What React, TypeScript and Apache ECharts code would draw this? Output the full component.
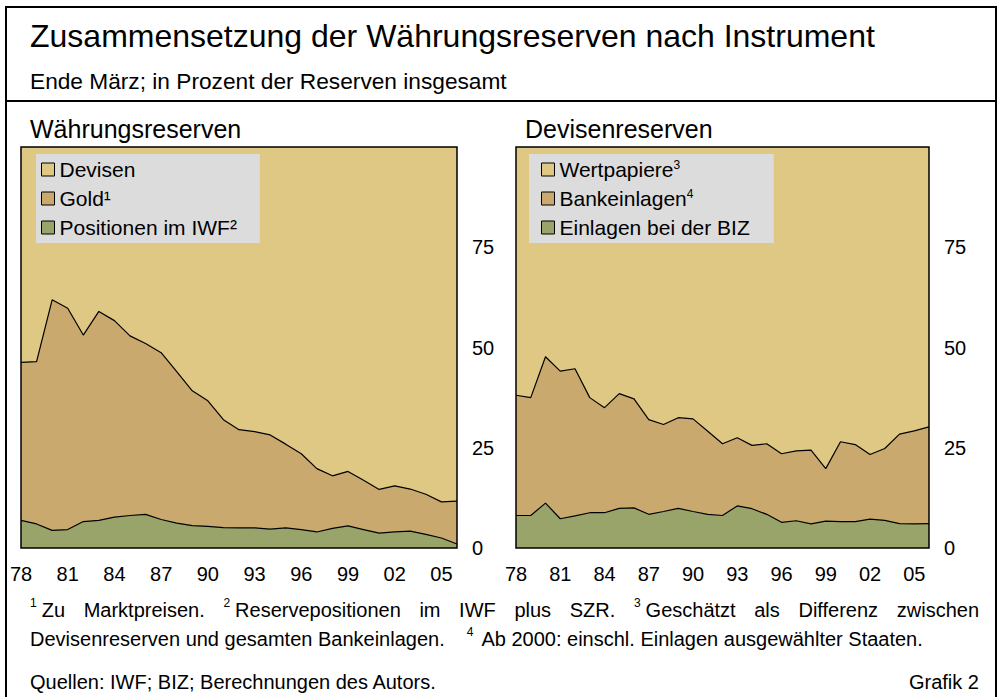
import { useEffect, useRef } from 'react';
import * as echarts from 'echarts';

// ---------- data ----------
const years = [
  1978, 1979, 1980, 1981, 1982, 1983, 1984, 1985, 1986, 1987,
  1988, 1989, 1990, 1991, 1992, 1993, 1994, 1995, 1996, 1997,
  1998, 1999, 2000, 2001, 2002, 2003, 2004, 2005, 2006,
];

// Währungsreserven (in % der Reserven insgesamt)
const iwfPositions = [
  6.9, 6.0, 4.4, 4.6, 6.6, 6.9, 7.7, 8.1, 8.4, 7.1,
  6.2, 5.6, 5.4, 5.1, 5.0, 5.0, 4.7, 5.0, 4.6, 4.0,
  4.9, 5.5, 4.6, 3.7, 4.0, 4.2, 3.4, 2.5, 1.0,
];
const gold = [
  39.4, 40.5, 57.5, 55.2, 46.5, 52.1, 49.0, 44.8, 42.6, 41.6,
  37.8, 33.6, 31.3, 26.9, 24.5, 24.0, 23.5, 20.9, 18.9, 15.8,
  13.1, 13.6, 12.3, 10.9, 11.5, 10.5, 10.0, 9.0, 10.7,
];
const devisen = [
  53.7, 53.5, 38.1, 40.2, 46.9, 41.0, 43.3, 47.1, 49.0, 51.3,
  56.0, 60.8, 63.3, 68.0, 70.5, 71.0, 71.8, 74.1, 76.5, 80.2,
  82.0, 80.9, 83.1, 85.4, 84.5, 85.3, 86.6, 88.5, 88.3,
];

// Devisenreserven (in % der Devisenreserven)
const bizDeposits = [
  8.1, 8.1, 11.2, 7.3, 8.0, 8.8, 8.8, 9.9, 10.0, 8.4,
  9.1, 9.9, 9.1, 8.4, 8.1, 10.5, 9.8, 8.4, 6.4, 6.8,
  6.0, 6.7, 6.6, 6.6, 7.2, 6.9, 6.1, 6.0, 6.1,
];
const bankDeposits = [
  30.0, 29.4, 36.5, 36.8, 36.7, 28.7, 26.2, 28.6, 27.2, 23.6,
  21.7, 22.6, 23.1, 20.7, 17.9, 17.0, 15.8, 17.6, 17.1, 17.4,
  18.4, 13.1, 19.9, 19.2, 16.1, 17.9, 22.3, 23.2, 24.1,
];
const securities = [
  61.9, 62.5, 52.3, 55.9, 55.3, 62.5, 65.0, 61.5, 62.8, 68.0,
  69.2, 67.5, 67.8, 70.9, 74.0, 72.5, 74.4, 74.0, 76.5, 75.8,
  75.6, 80.2, 73.5, 74.2, 76.7, 75.2, 71.6, 70.8, 69.8,
];

const yTickLabels = [0, 25, 50, 75];

// ---------- texts ----------
const TITLE = 'Zusammensetzung der Währungsreserven nach Instrument';
const SUBTITLE = 'Ende März; in Prozent der Reserven insgesamt';
const PANEL_LEFT = 'Währungsreserven';
const PANEL_RIGHT = 'Devisenreserven';
const FOOT1: [string, string][] = [
  ['1', 'Zu'], ['', 'Marktpreisen.'], ['2', 'Reservepositionen'], ['', 'im'], ['', 'IWF'],
  ['', 'plus'], ['', 'SZR.'], ['3', 'Geschätzt'], ['', 'als'], ['', 'Differenz'], ['', 'zwischen'],
];
const FOOT2A = 'Devisenreserven und gesamten Bankeinlagen.';
const FOOT2SUP = '4';
const FOOT2B = 'Ab 2000: einschl. Einlagen ausgewählter Staaten.';
const SOURCE = 'Quellen: IWF; BIZ; Berechnungen des Autors.';
const CHART_NO = 'Grafik 2';

// ---------- styles ----------
const C_TOP = '#dfc883';
const C_MID = '#c9a96e';
const C_LOW = '#99a46b';
const FONT = '"Liberation Sans", Arial, Helvetica, sans-serif';

const GRIDS = [
  { left: 21, top: 147, width: 436, height: 401 },
  { left: 516, top: 147, width: 413, height: 401 },
];

export default function App() {
  const ref = useRef<HTMLDivElement>(null);

  useEffect(() => {
    const el = ref.current;
    if (!el) return;
    const chart = echarts.init(el, null, { renderer: 'svg' });

    const ctx = document.createElement('canvas').getContext('2d')!;
    const measure = (t: string, size: number) => {
      ctx.font = `${size}px "Liberation Sans"`;
      return ctx.measureText(t).width;
    };

    const FN = 20;
    const SUP = 12;
    const SUPGAP = 5;
    const X0 = 30;
    const X1 = 979;
    const L1 = 610;
    const L2 = 639;
    const L3 = 682;

    const graphics: any[] = [];
    const txt = (x: number, y: number, text: string, size: number, align = 'left') => ({
      type: 'text',
      x,
      y,
      z: 100,
      silent: true,
      style: { text, fontSize: size, fontFamily: FONT, fill: '#000', align, verticalAlign: 'middle' },
    });

    // frame
    graphics.push({
      type: 'rect', z: 100, silent: true,
      shape: { x: 6, y: 7, width: 990, height: 702 },
      style: { fill: 'none', stroke: '#000', lineWidth: 2 },
    });
    graphics.push({
      type: 'line', z: 100, silent: true,
      shape: { x1: 6, y1: 101, x2: 996, y2: 101 },
      style: { stroke: '#000', lineWidth: 2 },
    });
    graphics.push(txt(X0, 36, TITLE, 32));
    graphics.push(txt(X0, 81, SUBTITLE, 22.7));
    graphics.push(txt(X0, 129, PANEL_LEFT, 25));
    graphics.push(txt(525, 129, PANEL_RIGHT, 25));

    GRIDS.forEach((g) => {
      graphics.push({
        type: 'rect', z: 100, silent: true,
        shape: { x: g.left, y: g.top, width: g.width, height: g.height },
        style: { fill: 'none', stroke: '#000', lineWidth: 1.5 },
      });
    });

    // footnote line 1, justified
    const widths = FOOT1.map(([s, w]) => (s ? measure(s, SUP) + SUPGAP : 0) + measure(w, FN));
    const total = widths.reduce((a, b) => a + b, 0);
    const gap = (X1 - X0 - total) / (FOOT1.length - 1);
    let cx = X0;
    FOOT1.forEach(([s, w], i) => {
      let wx = cx;
      if (s) {
        graphics.push(txt(cx, L1 - 7, s, SUP));
        wx = cx + measure(s, SUP) + SUPGAP;
      }
      graphics.push(txt(wx, L1, w, FN));
      cx += widths[i] + gap;
    });
    // footnote line 2
    const w2a = measure(FOOT2A, FN);
    const supX = X0 + w2a + 22;
    graphics.push(txt(X0, L2, FOOT2A, FN));
    graphics.push(txt(supX, L2 - 7, FOOT2SUP, SUP));
    graphics.push(txt(supX + measure(FOOT2SUP, SUP) + 8, L2, FOOT2B, FN));
    graphics.push(txt(X0, L3, SOURCE, FN));
    graphics.push(txt(X1, L3, CHART_NO, FN, 'right'));

    const xAxis = GRIDS.map((_, gi) => ({
      type: 'category',
      gridIndex: gi,
      data: years,
      boundaryGap: false,
      axisLine: { show: false },
      axisTick: {
        show: true, inside: true, length: 7,
        interval: (i: number) => i % 3 === 0,
        lineStyle: { color: '#000', width: 1 },
      },
      axisLabel: {
        interval: (i: number) => i % 3 === 0,
        formatter: (v: string) => String(v).slice(2),
        color: '#000', fontSize: 20, fontFamily: FONT, margin: 16,
      },
      splitLine: { show: false },
    }));
    const yAxis = GRIDS.map((_, gi) => ({
      type: 'value',
      gridIndex: gi,
      min: 0, max: 100, interval: 25,
      position: 'right',
      axisLine: { show: false },
      axisTick: { show: false },
      splitLine: { show: false },
      axisLabel: {
        formatter: (v: number) => (yTickLabels.includes(v) ? String(v) : ''),
        color: '#000', fontSize: 20, fontFamily: FONT, margin: 15,
      },
    }));

    const area = (name: string, values: number[], gi: number, color: string, edge: boolean, z: number) => ({
      type: 'line',
      name,
      xAxisIndex: gi,
      yAxisIndex: gi,
      stack: 'p' + gi,
      data: values,
      symbol: 'none',
      showSymbol: false,
      silent: true,
      z,
      itemStyle: { color },
      lineStyle: edge ? { color: '#000', width: 1.2 } : { width: 0, opacity: 0 },
      areaStyle: { color, opacity: 1 },
    });

    const legendItem = (name: string, color: string) => ({
      name,
      icon: 'rect',
      itemStyle: { color, borderColor: '#000', borderWidth: 1 },
    });
    const legendBase = {
      orient: 'vertical',
      icon: 'rect',
      itemWidth: 13,
      itemHeight: 13,
      itemGap: 8,
      itemTextGap: 6,
      backgroundColor: '#dcdcdc',
      borderWidth: 0,
      selectedMode: false,
      itemStyle: { borderColor: '#000', borderWidth: 1 },
      textStyle: { fontSize: 21, lineHeight: 21, color: '#000', fontFamily: FONT },
    };

    chart.setOption({
      animation: false,
      backgroundColor: '#ffffff',
      textStyle: { fontFamily: FONT },
      grid: GRIDS.map((g) => ({ ...g, containLabel: false })),
      xAxis,
      yAxis,
      legend: [
        {
          ...legendBase,
          left: 36,
          top: 154,
          padding: [5, 23, 5, 5],
          data: [
            legendItem('Devisen', C_TOP),
            legendItem('Gold¹', C_MID),
            legendItem('Positionen im IWF²', C_LOW),
          ],
        },
        {
          ...legendBase,
          left: 529,
          top: 154,
          padding: [5, 24, 5, 12],
          formatter: (name: string) =>
            name === 'Wertpapiere' ? 'Wertpapiere{s|3}' : name === 'Bankeinlagen' ? 'Bankeinlagen{s|4}' : name,
          textStyle: {
            ...legendBase.textStyle,
            rich: { s: { fontSize: 12, verticalAlign: 'top', lineHeight: 12, fontFamily: FONT, color: '#000' } },
          },
          data: [
            legendItem('Wertpapiere', C_TOP),
            legendItem('Bankeinlagen', C_MID),
            legendItem('Einlagen bei der BIZ', C_LOW),
          ],
        },
      ],
      series: [
        area('Positionen im IWF²', iwfPositions, 0, C_LOW, true, 5),
        area('Gold¹', gold, 0, C_MID, true, 4),
        area('Devisen', devisen, 0, C_TOP, false, 3),
        area('Einlagen bei der BIZ', bizDeposits, 1, C_LOW, true, 5),
        area('Bankeinlagen', bankDeposits, 1, C_MID, true, 4),
        area('Wertpapiere', securities, 1, C_TOP, false, 3),
      ],
      graphic: graphics,
    });

    return () => chart.dispose();
  }, []);

  return (
    <div
      ref={ref}
      style={{ position: 'fixed', left: 0, top: 0, width: 997, height: 697, background: '#fff' }}
    />
  );
}
